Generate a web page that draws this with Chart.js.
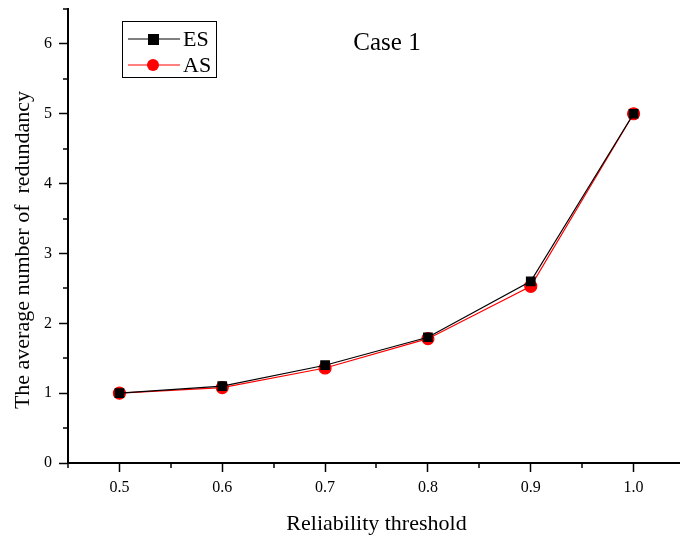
<!DOCTYPE html>
<html lang="en">
<head>
  <meta charset="UTF-8">
  <title>Case 1 – average number of redundancy</title>
  <script src="https://cdn.jsdelivr.net/npm/chart.js"></script>
  <style>
    body {
      margin: 0;
      background: #fff;
      overflow: hidden;
    }
    #wrap {
      width: 680px;
      height: 539px;
      overflow: hidden;
    }
    #chartBox {
      width: 700px;
      height: 539px;
    }
  </style>
</head>
<body>
  <div id="wrap">
    <div id="chartBox"><canvas id="redundancyChart"></canvas></div>
  </div>

  <script>
    const thresholds = [0.5, 0.6, 0.7, 0.8, 0.9, 1.0];
    const esValues = [1.0, 1.1, 1.4, 1.8, 2.6, 5.0];
    const asValues = [1.0, 1.08, 1.36, 1.78, 2.53, 5.0];
    const xTickLabels = ['0.5', '0.6', '0.7', '0.8', '0.9', '1.0'];
    const yTickLabels = ['0', '1', '2', '3', '4', '5', '6'];
    const yTitle = 'The average number of  redundancy';

    const FONT = '"Liberation Serif", "Times New Roman", serif';

    // minor ticks (Origin style), drawn outward from the axes
    const minorTicks = {
      id: 'minorTicks',
      afterDraw(chart) {
        const c = chart.ctx;
        const x = chart.scales.x, y = chart.scales.y;
        c.save();
        c.strokeStyle = '#000';
        c.lineWidth = 1.5;
        for (let v = 0.45; v <= 1.051; v += 0.1) {
          const px = Math.round(x.getPixelForValue(v));
          c.beginPath();
          c.moveTo(px, y.bottom);
          c.lineTo(px, y.bottom + 5);
          c.stroke();
        }
        for (let v = 0.5; v <= 6.5; v += 1) {
          const py = Math.round(y.getPixelForValue(v));
          c.beginPath();
          c.moveTo(x.left, py);
          c.lineTo(x.left - 5, py);
          c.stroke();
        }
        // y title, sits a bit below the axis centre like the original
        c.fillStyle = '#000';
        c.font = '22px ' + FONT;
        c.textAlign = 'center';
        c.textBaseline = 'middle';
        c.translate(23, 250);
        c.rotate(-Math.PI / 2);
        c.fillText(yTitle, 0, 0);
        c.restore();
      }
    };

    // boxed legend and "Case 1" label inside the plot
    const boxLegend = {
      id: 'boxLegend',
      afterDraw(chart) {
        const c = chart.ctx;
        c.save();
        c.strokeStyle = '#000';
        c.lineWidth = 1;
        c.strokeRect(122.5, 21.5, 94, 56);
        c.font = '22px ' + FONT;
        c.textBaseline = 'middle';
        chart.data.datasets.forEach((ds, i) => {
          const yy = 39 + i * 26;
          c.strokeStyle = ds.borderColor;
          c.lineWidth = 1;
          c.beginPath();
          c.moveTo(128, yy);
          c.lineTo(180, yy);
          c.stroke();
          c.fillStyle = ds.pointBackgroundColor;
          if (ds.pointStyle === 'rect') {
            c.fillRect(148, yy - 5, 11, 11);
          } else {
            c.beginPath();
            c.arc(153, yy, 6, 0, Math.PI * 2);
            c.fill();
          }
          c.fillStyle = '#000';
          c.fillText(ds.label, 183, yy + 1);
        });
        c.font = '25px ' + FONT;
        c.textAlign = 'center';
        c.fillText('Case 1', 387, 43);
        c.restore();
      }
    };

    const ctx = document.getElementById('redundancyChart').getContext('2d');
    const chart = new Chart(ctx, {
      type: 'line',
      data: {
        datasets: [
          {
            label: 'ES',
            data: thresholds.map((t, i) => ({ x: t, y: esValues[i] })),
            borderColor: '#000',
            backgroundColor: '#000',
            pointBackgroundColor: '#000',
            pointBorderColor: '#000',
            pointStyle: 'rect',
            pointRadius: 6,
            borderWidth: 1.2,
            tension: 0
          },
          {
            label: 'AS',
            data: thresholds.map((t, i) => ({ x: t, y: asValues[i] })),
            borderColor: '#ff0000',
            backgroundColor: '#ff0000',
            pointBackgroundColor: '#ff0000',
            pointBorderColor: '#ff0000',
            pointStyle: 'circle',
            pointRadius: 6,
            borderWidth: 1.2,
            tension: 0
          }
        ]
      },
      options: {
        responsive: true,
        maintainAspectRatio: false,
        animation: false,
        layout: { padding: { top: 9, right: 15, left: 0, bottom: 0 } },
        plugins: {
          legend: { display: false },
          tooltip: { enabled: false }
        },
        scales: {
          x: {
            type: 'linear',
            min: 0.45,
            max: 1.05,
            afterBuildTicks: s => { s.ticks = thresholds.map(v => ({ value: v })); },
            afterFit: s => { s.height = 76; s.paddingLeft = 0; s.paddingRight = 0; },
            ticks: {
              color: '#000',
              font: { family: FONT, size: 16 },
              padding: 6,
              callback: (v, i) => xTickLabels[i]
            },
            grid: {
              drawOnChartArea: false,
              color: '#000',
              tickLength: 9,
              tickWidth: 1.5
            },
            border: { color: '#000', width: 2 },
            title: {
              display: true,
              text: 'Reliability threshold',
              color: '#000',
              font: { family: FONT, size: 22 },
              padding: { top: 0, bottom: 2 }
            }
          },
          y: {
            type: 'linear',
            min: 0,
            max: 6.5,
            afterBuildTicks: s => { s.ticks = yTickLabels.map(v => ({ value: Number(v) })); },
            afterFit: s => { s.width = 68; s.paddingTop = 0; s.paddingBottom = 0; },
            ticks: {
              color: '#000',
              font: { family: FONT, size: 16 },
              padding: 7,
              callback: (v, i) => yTickLabels[i]
            },
            grid: {
              drawOnChartArea: false,
              color: '#000',
              tickLength: 9,
              tickWidth: 1.5
            },
            border: { color: '#000', width: 2 },
            title: { display: false }
          }
        }
      },
      plugins: [minorTicks, boxLegend]
    });
  </script>
</body>
</html>
